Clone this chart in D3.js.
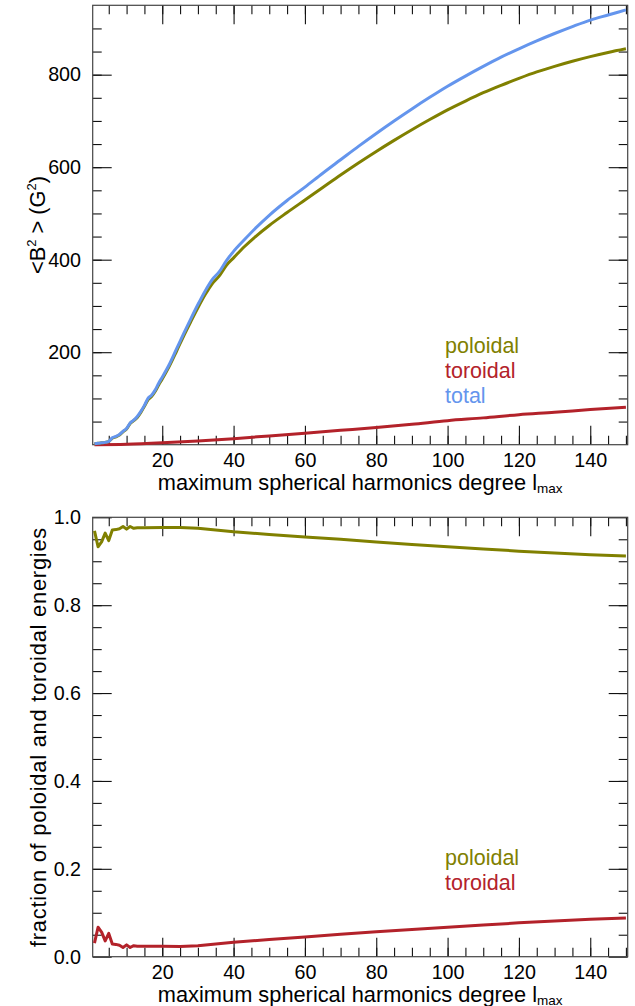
<!DOCTYPE html>
<html lang="en">
<head>
  <meta charset="UTF-8" />
  <title>Magnetic energy vs lmax</title>
  <script src="https://d3js.org/d3.v7.min.js"></script>
  <style>
    body { margin: 0; background: #fff; }
    svg text { font-family: "Liberation Sans", Arial, Helvetica, sans-serif; }
  </style>
</head>
<body>
  <div id="chart"></div>

  <script>
    // --- data ---
    // top panel: <B^2> in G^2 against maximum degree lmax
    const lTop = [1,2,3,4,5,6,7,8,9,10,11,12,13,14,15,16,17,18,19,20,22,24,26,28,30,32,34,36,38,40,43,46,50,55,60,65,70,75,80,85,90,95,100,105,110,115,120,125,130,135,140,145,150];
    const totalE = [2,3,4,5,7,15,18,22,29,35,47,53,61,72,85,100,107,118,133,146,174,207,240,272,303,332,357,374,398,418,443,467,496,528,557,587,616,645,673,700,726,751,775,797,818,838,856,873,889,904,918,929,940];
    const poloidalE = [2,3,4,5,7,14,17,21,28,34,46,52,59,70,83,97,104,115,129,142,170,202,235,266,296,324,348,365,388,404,428,449,474,502,529,556,583,609,634,658,681,703,724,743,761,777,792,806,818,829,839,848,856];
    const lTor = [1,10,20,30,40,50,60,70,80,90,100,110,120,130,140,150];
    const toroidalE = [0,1,4,8,13,19,25,31,37,44,52,58,65,70,76,81];

    // bottom panel: energy fractions
    const lFrac = [1,2,3,4,5,6,7,8,9,10,11,12,13,15,20,25,30,35,40,50,60,70,80,90,100,110,120,130,140,150];
    const poloidalFrac = [0.969,0.933,0.944,0.964,0.947,0.971,0.972,0.974,0.979,0.973,0.979,0.975,0.976,0.976,0.977,0.977,0.975,0.971,0.967,0.961,0.955,0.950,0.944,0.938,0.933,0.928,0.923,0.919,0.915,0.912];
    const toroidalFrac = [0.031,0.067,0.056,0.036,0.053,0.029,0.028,0.026,0.021,0.027,0.021,0.025,0.024,0.024,0.024,0.023,0.025,0.029,0.033,0.039,0.045,0.051,0.057,0.062,0.067,0.072,0.077,0.081,0.085,0.088];

    const xTicks = [20,40,60,80,100,120,140];
    const yTopTicks = [200,400,600,800];
    const yBotTicks = [0,0.2,0.4,0.6,0.8,1.0];
    const names = ["poloidal", "toroidal", "total"];
    const colors = {poloidal: "#808000", toroidal: "#b3222a", total: "#6495ed"};

    // --- layout ---
    let width = 635, height = 1006;
    let left = 92.7, right = 627.7;
    let panelTop = {top: 5.3, bottom: 444.7},
        panelBot = {top: 517.3, bottom: 956.7};

    let svg = d3.select("#chart")
      .append("svg")
        .attr("width", width)
        .attr("height", height);

    let x = d3.scaleLinear().domain([0.5, 150.5]).range([left, right]);
    let yTop = d3.scaleLinear().domain([0, 950]).range([panelTop.bottom, panelTop.top]);
    let yBot = d3.scaleLinear().domain([0, 1]).range([panelBot.bottom, panelBot.top]);

    const xMinor = d3.range(5, 151, 5);

    function styleAxis(g) {
      g.select(".domain").remove();
      g.selectAll("line").attr("stroke", "#111").attr("stroke-width", 1.1);
      g.selectAll("text").attr("fill", "#000");
      g.attr("font-size", 19.7).attr("font-family", null);
    }

    function drawFrame(p, y, yMajor, yMinor, fmt) {
      // bottom
      svg.append("g").attr("transform", "translate(0," + p.bottom + ")")
        .call(d3.axisBottom(x).tickValues(xTicks).tickSize(-19).tickPadding(8.6).tickFormat(d3.format("d")))
        .call(styleAxis);
      svg.append("g").attr("transform", "translate(0," + p.bottom + ")")
        .call(d3.axisBottom(x).tickValues(xMinor).tickSize(-9).tickFormat(""))
        .call(styleAxis);
      // top
      svg.append("g").attr("transform", "translate(0," + p.top + ")")
        .call(d3.axisTop(x).tickValues(xTicks).tickSize(-19).tickFormat(""))
        .call(styleAxis);
      svg.append("g").attr("transform", "translate(0," + p.top + ")")
        .call(d3.axisTop(x).tickValues(xMinor).tickSize(-9).tickFormat(""))
        .call(styleAxis);
      // left
      svg.append("g").attr("transform", "translate(" + left + ",0)")
        .call(d3.axisLeft(y).tickValues(yMajor).tickSize(-19).tickPadding(11.7).tickFormat(fmt))
        .call(styleAxis);
      svg.append("g").attr("transform", "translate(" + left + ",0)")
        .call(d3.axisLeft(y).tickValues(yMinor).tickSize(-9).tickFormat(""))
        .call(styleAxis);
      // right
      svg.append("g").attr("transform", "translate(" + right + ",0)")
        .call(d3.axisRight(y).tickValues(yMajor).tickSize(-19).tickFormat(""))
        .call(styleAxis);
      svg.append("g").attr("transform", "translate(" + right + ",0)")
        .call(d3.axisRight(y).tickValues(yMinor).tickSize(-9).tickFormat(""))
        .call(styleAxis);

      svg.append("rect")
        .attr("x", left).attr("y", p.top)
        .attr("width", right - left).attr("height", p.bottom - p.top)
        .attr("fill", "none").attr("stroke", "#444").attr("stroke-width", 1.2);

      // x title with subscript
      let t = svg.append("text")
        .attr("x", (left + right) / 2)
        .attr("y", p.bottom + 45)
        .attr("text-anchor", "middle")
        .attr("font-size", 21.8)
        .text("maximum spherical harmonics degree l");
      t.append("tspan").attr("font-size", 13.5).attr("dy", 2.8).text("max");
    }

    function drawLine(xs, ys, y, color, curve) {
      let pts = xs.map(function(d, i) { return [d, ys[i]]; });
      svg.append("path")
        .datum(pts)
        .attr("fill", "none")
        .attr("stroke", color)
        .attr("stroke-width", 3)
        .attr("stroke-linejoin", "round")
        .attr("d", d3.line()
          .curve(curve)
          .x(function(d) { return x(d[0]); })
          .y(function(d) { return y(d[1]); }));
    }

    // top panel
    drawFrame(panelTop, yTop, yTopTicks, d3.range(50, 950, 50), d3.format("d"));
    drawLine(lTor, toroidalE, yTop, colors.toroidal, d3.curveMonotoneX);
    drawLine(lTop, poloidalE, yTop, colors.poloidal, d3.curveMonotoneX);
    drawLine(lTop, totalE, yTop, colors.total, d3.curveMonotoneX);

    let yl = svg.append("text")
      .attr("transform", "translate(44.5," + (panelTop.top + panelTop.bottom) / 2 + ") rotate(-90)")
      .attr("text-anchor", "middle")
      .attr("font-size", 21.8);
    yl.append("tspan").text("<B");
    yl.append("tspan").attr("font-size", 13).attr("dy", -9).text("2");
    yl.append("tspan").attr("dy", 9).text(" > (G");
    yl.append("tspan").attr("font-size", 13).attr("dy", -9).text("2");
    yl.append("tspan").attr("dy", 9).text(")");

    svg.selectAll("legendTop")
      .data(names)
      .enter()
      .append("text")
        .attr("x", 445)
        .attr("y", function(d, i) { return 353 + i * 25; })
        .attr("font-size", 21.5)
        .attr("fill", function(d) { return colors[d]; })
        .text(function(d) { return d; });

    // bottom panel (jagged start, so straight segments)
    drawFrame(panelBot, yBot, yBotTicks, d3.range(0.05, 1, 0.05), d3.format(".1f"));
    drawLine(lFrac, toroidalFrac, yBot, colors.toroidal, d3.curveLinear);
    drawLine(lFrac, poloidalFrac, yBot, colors.poloidal, d3.curveLinear);

    svg.append("text")
      .attr("transform", "translate(46," + (panelBot.top + panelBot.bottom) / 2 + ") rotate(-90)")
      .attr("text-anchor", "middle")
      .attr("font-size", 21.8)
      .attr("letter-spacing", 0.8)
      .text("fraction of poloidal and toroidal energies");

    svg.selectAll("legendBot")
      .data(names.slice(0, 2))
      .enter()
      .append("text")
        .attr("x", 445)
        .attr("y", function(d, i) { return 865 + i * 25; })
        .attr("font-size", 21.5)
        .attr("fill", function(d) { return colors[d]; })
        .text(function(d) { return d; });
  </script>
</body>
</html>
